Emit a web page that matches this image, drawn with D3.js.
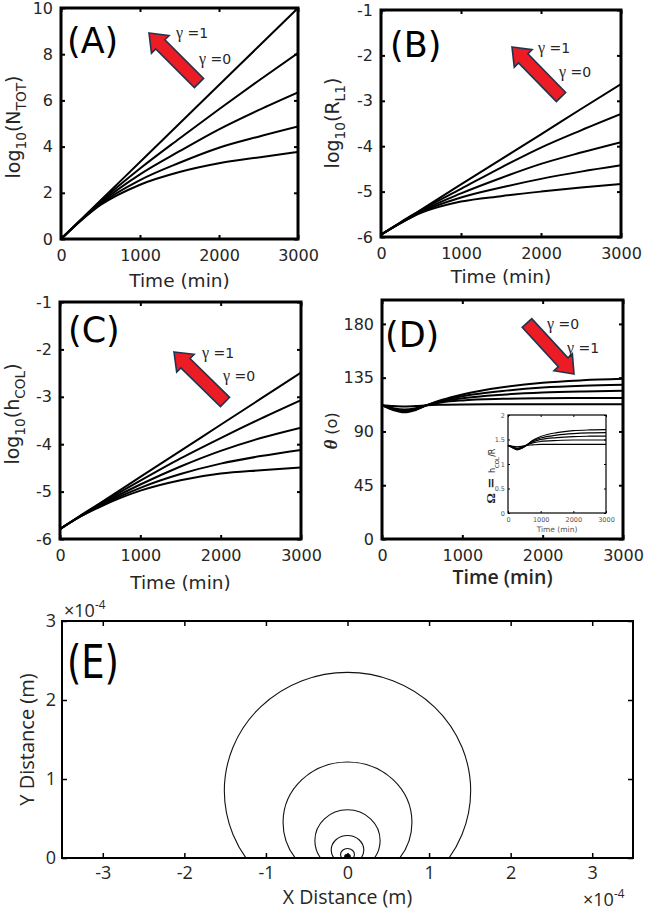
<!DOCTYPE html>
<html>
<head>
<meta charset="utf-8">
<script src="https://cdn.jsdelivr.net/npm/d3@7"></script>
<style>
  body { margin: 0; background: #fff; }
  svg { display: block; font-family: "DejaVu Sans", sans-serif; }
</style>
</head>
<body>
<div id="chart"></div>
<script>
// ---------------- data ----------------
var timeABC = [0, 250, 500, 1000, 1500, 2000, 2500, 3000];

// log10(N_TOT), one row per gamma (1, .75, .5, .25, 0)
var logNtot = [
  [0, 0.83, 1.67, 3.33, 5.00, 6.67, 8.33, 10.00],
  [0, 0.82, 1.62, 3.05, 4.35, 5.62, 6.85, 8.05],
  [0, 0.81, 1.57, 2.80, 3.80, 4.75, 5.58, 6.35],
  [0, 0.80, 1.52, 2.55, 3.30, 3.95, 4.43, 4.87],
  [0, 0.79, 1.47, 2.35, 2.90, 3.28, 3.53, 3.77]
];
var logRL1 = [
  [-5.95, -5.67, -5.40, -4.84, -4.29, -3.74, -3.18, -2.63],
  [-5.95, -5.68, -5.41, -4.94, -4.47, -4.03, -3.65, -3.29],
  [-5.95, -5.68, -5.43, -5.04, -4.70, -4.39, -4.14, -3.91],
  [-5.95, -5.69, -5.45, -5.13, -4.91, -4.72, -4.56, -4.42],
  [-5.95, -5.69, -5.47, -5.22, -5.10, -5.00, -4.91, -4.83]
];
var logHcol = [
  [-5.79, -5.51, -5.24, -4.69, -4.14, -3.59, -3.04, -2.49],
  [-5.79, -5.52, -5.26, -4.77, -4.30, -3.87, -3.46, -3.07],
  [-5.79, -5.52, -5.28, -4.85, -4.47, -4.14, -3.87, -3.65],
  [-5.79, -5.53, -5.30, -4.92, -4.63, -4.41, -4.25, -4.12],
  [-5.79, -5.53, -5.32, -4.98, -4.76, -4.62, -4.55, -4.49]
];

var timeD = [0, 140, 280, 420, 560, 750, 1000, 1500, 2000, 2500, 3000];
var thetaDeg = [
  [112, 108.0, 106.0, 108.0, 112, 116.5, 121.0, 127.0, 130.8, 132.8, 134.0],
  [112, 108.5, 106.8, 108.5, 112, 116.0, 119.5, 123.8, 126.7, 128.2, 129.0],
  [112, 109.0, 107.6, 109.0, 112, 115.2, 117.8, 120.8, 122.6, 123.5, 124.0],
  [112, 109.5, 108.4, 109.5, 112, 114.4, 116.0, 117.3, 117.8, 118.0, 118.0],
  [112, 111.2, 110.8, 111.2, 112, 112.4, 112.6, 112.7, 112.8, 112.8, 112.8]
];
var omegaRatio = [
  [1.38, 1.33, 1.29, 1.32, 1.38, 1.48, 1.56, 1.64, 1.68, 1.695, 1.70],
  [1.38, 1.335, 1.30, 1.325, 1.38, 1.47, 1.53, 1.59, 1.62, 1.635, 1.64],
  [1.38, 1.34, 1.31, 1.33, 1.38, 1.45, 1.50, 1.54, 1.56, 1.567, 1.57],
  [1.38, 1.345, 1.32, 1.34, 1.38, 1.43, 1.46, 1.48, 1.49, 1.49, 1.49],
  [1.38, 1.36, 1.35, 1.36, 1.38, 1.39, 1.40, 1.40, 1.40, 1.40, 1.40]
];

// colony contours in (E), units of 1e-4 m
var contourCy = [0.85, 0.45, 0.22, 0.10, 0.045, 0.018];
var contourRx = [1.51, 0.79, 0.40, 0.20, 0.085, 0.035];
var contourRy = [1.50, 0.765, 0.39, 0.185, 0.075, 0.03];

var ticksTime = [0, 1000, 2000, 3000];
var ticksA = [0, 2, 4, 6, 8, 10];
var ticksBC = [-6, -5, -4, -3, -2, -1];
var ticksD = [0, 45, 90, 135, 180];
var ticksInsetY = [0, 0.5, 1, 1.5, 2];
var ticksEx = [-3, -2, -1, 0, 1, 2, 3];
var ticksEy = [0, 1, 2, 3];

// ---------------- drawing ----------------
var INK = "#262626";
var svg = d3.select("#chart").append("svg")
    .attr("width", 645)
    .attr("height", 912);

// text with sub / superscripts
function addParts(text, parts, size) {
  var shift = 0;
  parts.forEach(function(p) {
    var ts = text.append("tspan").text(p.t);
    var target = p.sub ? size * 0.32 : (p.sup ? -size * 0.45 : 0);
    if (target !== shift) { ts.attr("dy", target - shift); shift = target; }
    if (p.sub || p.sup) ts.attr("font-size", size * (p.scale || 0.72));
    if (p.size) ts.attr("font-size", p.size);
    if (p.font) ts.attr("font-family", p.font);
    if (p.style) ts.attr("font-style", p.style);
    if (p.weight) ts.attr("font-weight", p.weight);
  });
}

// box with inward ticks on all four sides
function boxAxes(g, x, y, w, h, o) {
  var fmt = function(d) { return String(d); };
  var bottom = d3.axisBottom(x).tickValues(o.xTicks).tickSizeInner(-o.tick)
      .tickSizeOuter(0).tickPadding(o.padX).tickFormat(fmt);
  var left = d3.axisLeft(y).tickValues(o.yTicks).tickSizeInner(-o.tick)
      .tickSizeOuter(0).tickPadding(o.padY).tickFormat(fmt);
  var top = d3.axisTop(x).tickValues(o.xTicks).tickSizeInner(-o.tick)
      .tickSizeOuter(0).tickFormat("");
  var right = d3.axisRight(y).tickValues(o.yTicks).tickSizeInner(-o.tick)
      .tickSizeOuter(0).tickFormat("");

  var axes = [
    g.append("g").attr("transform", "translate(0," + h + ")").call(bottom),
    g.append("g").call(left),
    g.append("g").call(top),
    g.append("g").attr("transform", "translate(" + w + ",0)").call(right)
  ];

  axes.forEach(function(a) {
    a.select(".domain").remove();
    a.selectAll(".tick line").attr("stroke", "#000").attr("stroke-width", o.tickWidth);
    a.selectAll(".tick text")
        .attr("fill", o.color || INK)
        .attr("font-size", o.fontSize)
        .attr("font-family", o.font || "'DejaVu Sans', sans-serif");
  });

  g.append("rect")
      .attr("width", w).attr("height", h)
      .attr("fill", "none")
      .attr("stroke", "#000")
      .attr("stroke-width", o.frame);
}

function drawArrow(g, tip, tail) {
  var dx = tail[0] - tip[0], dy = tail[1] - tip[1];
  var L = Math.sqrt(dx * dx + dy * dy);
  var ang = Math.atan2(dy, dx) * 180 / Math.PI;
  var hl = 16, hw = 12.5, sw = 6.5;
  var pts = [[0, 0], [hl, -hw], [hl, -sw], [L, -sw], [L, sw], [hl, sw], [hl, hw]];
  g.append("polygon")
      .attr("points", pts.map(function(p) { return p.join(","); }).join(" "))
      .attr("transform", "translate(" + tip[0] + "," + tip[1] + ") rotate(" + ang + ")")
      .attr("fill", "#ec1c24")
      .attr("stroke", "#1d3550")
      .attr("stroke-width", 1.6)
      .attr("stroke-linejoin", "miter");
}

function gammaLabel(g, pos, val) {
  var t = g.append("text")
      .attr("x", pos[0]).attr("y", pos[1])
      .attr("font-size", 14).attr("fill", INK);
  addParts(t, [
    { t: "\u03b3", font: "'Liberation Serif', serif", size: 16 },
    { t: " =" + val }
  ], 14);
}

var lineGen = function(x, y, times) {
  return d3.line()
      .x(function(d, i) { return x(times[i]); })
      .y(function(d) { return y(d); })
      .curve(d3.curveMonotoneX);
};

var clipId = 0;
function linePanel(cfg) {
  var b = cfg.box;
  var w = b[2] - b[0], h = b[3] - b[1];
  var g = svg.append("g").attr("transform", "translate(" + b[0] + "," + b[1] + ")");
  var x = d3.scaleLinear().domain([0, 3000]).range([0, w]);
  var y = d3.scaleLinear().domain(cfg.yDomain).range([h, 0]);

  var id = "clip" + (clipId++);
  g.append("clipPath").attr("id", id).append("rect").attr("width", w).attr("height", h);

  var line = lineGen(x, y, cfg.times);
  g.append("g").attr("clip-path", "url(#" + id + ")")
    .selectAll("path").data(cfg.series).enter().append("path")
      .attr("d", line)
      .attr("fill", "none")
      .attr("stroke", "#000")
      .attr("stroke-width", 2);

  if (cfg.extra) cfg.extra(g, w, h);

  boxAxes(g, x, y, w, h, {
    xTicks: ticksTime, yTicks: cfg.yTicks, tick: 4, tickWidth: 2,
    padX: 11, padY: 8, fontSize: 16, frame: 3
  });

  // x title
  var xt = g.append("text")
      .attr("x", w / 2).attr("y", h + cfg.xTitleDy)
      .attr("text-anchor", "middle")
      .attr("fill", INK)
      .attr("font-size", 18.5)
      .text("Time (min)");
  if (cfg.xTitleBold) {
    xt.attr("font-family", "'Open Sans', sans-serif")
      .attr("font-weight", 600)
      .attr("font-size", 19.5);
  }

  // y title
  var yt = g.append("text")
      .attr("transform", "translate(" + cfg.yTitle[0] + "," + cfg.yTitle[1] + ") rotate(-90)")
      .attr("text-anchor", "middle")
      .attr("dy", "0.35em")
      .attr("fill", INK)
      .attr("font-size", 19);
  addParts(yt, cfg.yParts, 19);

  // panel letter
  g.append("text")
      .attr("x", cfg.letterPos[0]).attr("y", cfg.letterPos[1])
      .attr("font-size", 35)
      .attr("fill", "#000")
      .text(cfg.letter);

  drawArrow(g, cfg.arrowTip, cfg.arrowTail);
  gammaLabel(g, cfg.gTop, cfg.gTopVal);
  gammaLabel(g, cfg.gBot, cfg.gBotVal);
  return g;
}

// (A)
linePanel({
  box: [61, 8, 298, 239], yDomain: [0, 10], yTicks: ticksA,
  times: timeABC, series: logNtot,
  xTitleDy: 48, yTitle: [-48, 119],
  yParts: [{ t: "log" }, { t: "10", sub: true }, { t: "(N" }, { t: "TOT", sub: true }, { t: ")" }],
  letter: "(A)", letterPos: [6, 45],
  arrowTip: [88, 25], arrowTail: [138, 75],
  gTop: [115, 30], gTopVal: 1, gBot: [138, 56], gBotVal: 0
});

// (B)
linePanel({
  box: [381, 10, 621, 237], yDomain: [-6, -1], yTicks: ticksBC,
  times: timeABC, series: logRL1,
  xTitleDy: 46, yTitle: [-49, 113],
  yParts: [{ t: "log" }, { t: "10", sub: true }, { t: "(R" }, { t: "L1", sub: true }, { t: ")" }],
  letter: "(B)", letterPos: [9, 47],
  arrowTip: [131, 37], arrowTail: [180, 87],
  gTop: [157, 43], gTopVal: 1, gBot: [178, 67], gBotVal: 0
});

// (C)
linePanel({
  box: [60, 302, 301, 539], yDomain: [-6, -1], yTicks: ticksBC,
  times: timeABC, series: logHcol,
  xTitleDy: 50, yTitle: [-48, 112],
  yParts: [{ t: "log" }, { t: "10", sub: true }, { t: "(h" }, { t: "COL", sub: true }, { t: ")" }],
  letter: "(C)", letterPos: [8, 40],
  arrowTip: [114, 50], arrowTail: [165, 100],
  gTop: [142, 56], gTopVal: 1, gBot: [163, 79], gBotVal: 0
});

// (D) with inset
linePanel({
  box: [382, 300, 623, 539], yDomain: [0, 200], yTicks: ticksD,
  times: timeD, series: thetaDeg,
  xTitleDy: 45, xTitleBold: true, yTitle: [-52, 131],
  yParts: [{ t: "\u03b8", font: "'Liberation Serif', serif", style: "italic", weight: 700 },
           { t: " (o)", size: 16 }],
  letter: "(D)", letterPos: [3, 47],
  arrowTip: [192, 74], arrowTail: [145, 23],
  gTop: [165, 29], gTopVal: 0, gBot: [185, 53], gBotVal: 1,
  extra: function(g) {
    var ib = [126, 115, 224, 213];
    var iw = ib[2] - ib[0], ih = ib[3] - ib[1];
    var ig = g.append("g").attr("transform", "translate(" + ib[0] + "," + ib[1] + ")");
    ig.append("rect").attr("x", -34).attr("y", -6).attr("width", iw + 40).attr("height", ih + 30)
        .attr("fill", "#fff");
    var ix = d3.scaleLinear().domain([0, 3000]).range([0, iw]);
    var iy = d3.scaleLinear().domain([0, 2]).range([ih, 0]);
    ig.selectAll("path.om").data(omegaRatio).enter().append("path")
        .attr("class", "om")
        .attr("d", lineGen(ix, iy, timeD))
        .attr("fill", "none")
        .attr("stroke", "#000")
        .attr("stroke-width", 1.2);
    boxAxes(ig, ix, iy, iw, ih, {
      xTicks: ticksTime, yTicks: ticksInsetY, tick: 2, tickWidth: 1,
      padX: 4, padY: 3, fontSize: 6.5, frame: 1.2, color: "#555"
    });
    ig.append("text")
        .attr("x", iw / 2).attr("y", ih + 19)
        .attr("text-anchor", "middle")
        .attr("font-size", 7.5).attr("fill", "#555")
        .text("Time (min)");
    var yl = ig.append("text")
        .attr("transform", "translate(-18," + (ih / 2 + 12) + ") rotate(-90)")
        .attr("text-anchor", "middle")
        .attr("dy", "0.35em")
        .attr("fill", "#222")
        .attr("font-size", 13);
    addParts(yl, [
      { t: "\u03a9", font: "'Liberation Serif', serif", weight: 700 },
      { t: " = ", weight: 700 },
      { t: "h", size: 8 }, { t: "COL", sub: true, scale: 0.42 }, { t: "/R", size: 8 }
    ], 13);
  }
});

// (E) colony cross-section
(function() {
  var b = [62, 621, 633, 858];
  var w = b[2] - b[0], h = b[3] - b[1];
  var g = svg.append("g").attr("transform", "translate(" + b[0] + "," + b[1] + ")");
  var x = d3.scaleLinear().domain([-3.5, 3.5]).range([0, w]);
  var y = d3.scaleLinear().domain([0, 3]).range([h, 0]);

  g.append("clipPath").attr("id", "clipE").append("rect").attr("width", w).attr("height", h);

  g.append("g").attr("clip-path", "url(#clipE)")
    .selectAll("ellipse").data(contourCy).enter().append("ellipse")
      .attr("cx", x(0))
      .attr("cy", function(d) { return y(d); })
      .attr("rx", function(d, i) { return x(contourRx[i]) - x(0); })
      .attr("ry", function(d, i) { return y(0) - y(contourRy[i]); })
      .attr("fill", function(d, i) { return i === contourCy.length - 1 ? "#000" : "none"; })
      .attr("stroke", "#111")
      .attr("stroke-width", 1.1);

  var fontE = "'Open Sans', sans-serif";
  boxAxes(g, x, y, w, h, {
    xTicks: ticksEx, yTicks: ticksEy, tick: 5, tickWidth: 1.5,
    padX: 8, padY: 6, fontSize: 18, frame: 2, font: fontE
  });

  g.append("text")
      .attr("x", x(0)).attr("y", h + 46)
      .attr("text-anchor", "middle")
      .attr("font-family", fontE)
      .attr("fill", INK).attr("font-size", 19.5)
      .text("X Distance (m)");
  g.append("text")
      .attr("transform", "translate(-35," + (h / 2) + ") rotate(-90)")
      .attr("text-anchor", "middle")
      .attr("dy", "0.35em")
      .attr("font-family", fontE)
      .attr("fill", INK).attr("font-size", 20)
      .text("Y Distance (m)");

  var e1 = g.append("text").attr("x", 2).attr("y", -4).attr("font-family", fontE)
      .attr("fill", INK).attr("font-size", 18);
  addParts(e1, [{ t: "\u00d710" }, { t: "-4", sup: true, scale: 0.65 }], 18);
  var e2 = g.append("text").attr("x", w - 50).attr("y", h + 48).attr("font-family", fontE)
      .attr("fill", INK).attr("font-size", 18);
  addParts(e2, [{ t: "\u00d710" }, { t: "-4", sup: true, scale: 0.65 }], 18);

  g.append("text")
      .attr("transform", "translate(5,57) scale(0.8,1)")
      .attr("font-size", 46)
      .attr("fill", "#000")
      .text("(E)");
})();
</script>
</body>
</html>
